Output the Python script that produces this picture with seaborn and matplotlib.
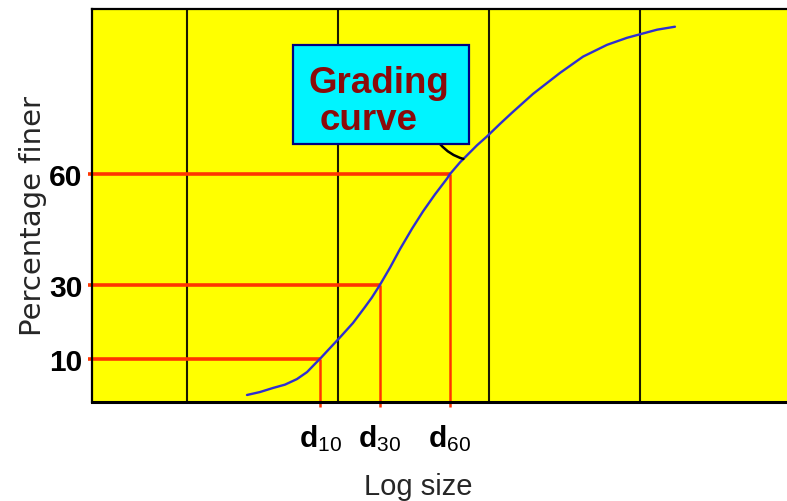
import numpy as np
import pandas as pd
import matplotlib
matplotlib.use("Agg")
import matplotlib.pyplot as plt
from matplotlib.patches import Rectangle
import seaborn as sns

# Grading curve: log10 of particle size vs. percentage finer
log_size = [-2.601, -2.515, -2.429, -2.350, -2.271, -2.204, -2.145, -2.118,
            -2.066, -1.986, -1.900, -1.821, -1.775, -1.722, -1.655, -1.589,
            -1.510, -1.437, -1.358, -1.278, -1.259, -1.192, -1.080, -1.014,
            -0.928, -0.849, -0.710, -0.531, -0.379, -0.220, -0.088, 0.011,
            0.111, 0.229]
percent_finer = [0.2, 1.0, 2.1, 3.0, 4.5, 6.4, 8.9, 10.0, 12.3, 15.8, 19.7,
                 24.0, 26.6, 30.0, 34.7, 39.7, 45.2, 49.9, 54.5, 58.8, 60.0,
                 63.2, 67.8, 70.2, 73.6, 76.6, 81.7, 87.4, 91.8, 95.0, 96.9,
                 98.0, 99.1, 99.9]

# Characteristic sizes (log10) where the curve crosses 10, 30 and 60 %
d_levels = [10, 30, 60]
d_log_sizes = [-2.118, -1.722, -1.259]
d_labels = [r"$\mathbf{d}_{10}$", r"$\mathbf{d}_{30}$", r"$\mathbf{d}_{60}$"]

# Decade grid lines
decades = [-3, -2, -1, 0]

curve = pd.DataFrame({"log_size": log_size, "finer": percent_finer})

sns.set_style("ticks")
plt.rcParams["font.family"] = ["Liberation Sans", "DejaVu Sans"]
plt.rcParams["mathtext.fontset"] = "custom"
plt.rcParams["mathtext.rm"] = "Liberation Sans"
plt.rcParams["mathtext.it"] = "Liberation Sans"
plt.rcParams["mathtext.bf"] = "Liberation Sans:bold"

fig = plt.figure(figsize=(7.87, 5.02), dpi=100)
ax = fig.add_axes([0.1169, 0.1972, 0.8831, 0.7829])
ax.set_facecolor("#ffff00")

xmin, xmax = -3.626, 0.970
ymin, ymax = -1.7, 104.7
ax.set_xlim(xmin, xmax)
ax.set_ylim(ymin, ymax)

red = "#ff3500"

for d in decades:
    ax.axvline(d, color="#1a1a00", lw=1.5, zorder=1)

for lvl, ds in zip(d_levels, d_log_sizes):
    ax.hlines(lvl, xmin, ds, color=red, lw=2.6, zorder=2)
    ax.vlines(ds, ymin, lvl, color=red, lw=1.8, zorder=2)

sns.lineplot(data=curve, x="log_size", y="finer", ax=ax, color="#2f2fd0",
             lw=1.7, zorder=3, legend=False)

# Ticks: red stubs continuing the reference lines, labels in black
ax.set_yticks(d_levels)
ax.set_yticklabels([str(v) for v in d_levels], fontsize=21.5, fontweight="bold")
ax.set_xticks(d_log_sizes)
ax.set_xticklabels(d_labels, fontsize=21.5)
ax.tick_params(axis="y", color=red, length=3, width=2.6, pad=4, labelcolor="black")
ax.tick_params(axis="x", color=red, length=3.6, width=1.8, pad=11, labelcolor="black")

for side in ("left", "bottom", "top"):
    ax.spines[side].set_color("black")
ax.spines["left"].set_linewidth(1.6)
ax.spines["bottom"].set_linewidth(2.2)
ax.spines["top"].set_linewidth(1.6)
ax.spines["right"].set_visible(False)

ax.set_xlabel("Log size", fontsize=21)
ax.xaxis.set_label_coords(0.47, -0.178)
ylab = ax.set_ylabel("Percentage finer", fontsize=21, family="DejaVu Sans")
ylab.set_verticalalignment("center")
ax.yaxis.set_label_coords(-0.085, 0.476)

# Callout box
box = Rectangle((0.2892, 0.6565), 0.2532, 0.2519, transform=ax.transAxes,
                facecolor="#00f4ff", edgecolor="#000080", lw=1.6, zorder=5)
ax.add_patch(box)
ax.text(0.3108, 0.7888, "Grading", transform=ax.transAxes, ha="left",
        va="baseline", fontsize=26.5, fontweight="bold", color="#8b0a0a", zorder=6)
ax.text(0.328, 0.6947, "curve", transform=ax.transAxes, ha="left",
        va="baseline", fontsize=26.5, fontweight="bold", color="#8b0a0a", zorder=6)

# Leader from the box to the curve
target_x = -1.17
target_pct = np.interp(target_x, log_size, percent_finer)
ax.annotate("", xy=(target_x, target_pct), xytext=(0.5007, 0.6565),
            textcoords="axes fraction", xycoords="data",
            arrowprops=dict(arrowstyle="-", color="black", lw=1.8,
                            shrinkA=0, shrinkB=0,
                            connectionstyle="arc3,rad=0.15"), zorder=4)

fig.savefig("out.png", dpi=100)
